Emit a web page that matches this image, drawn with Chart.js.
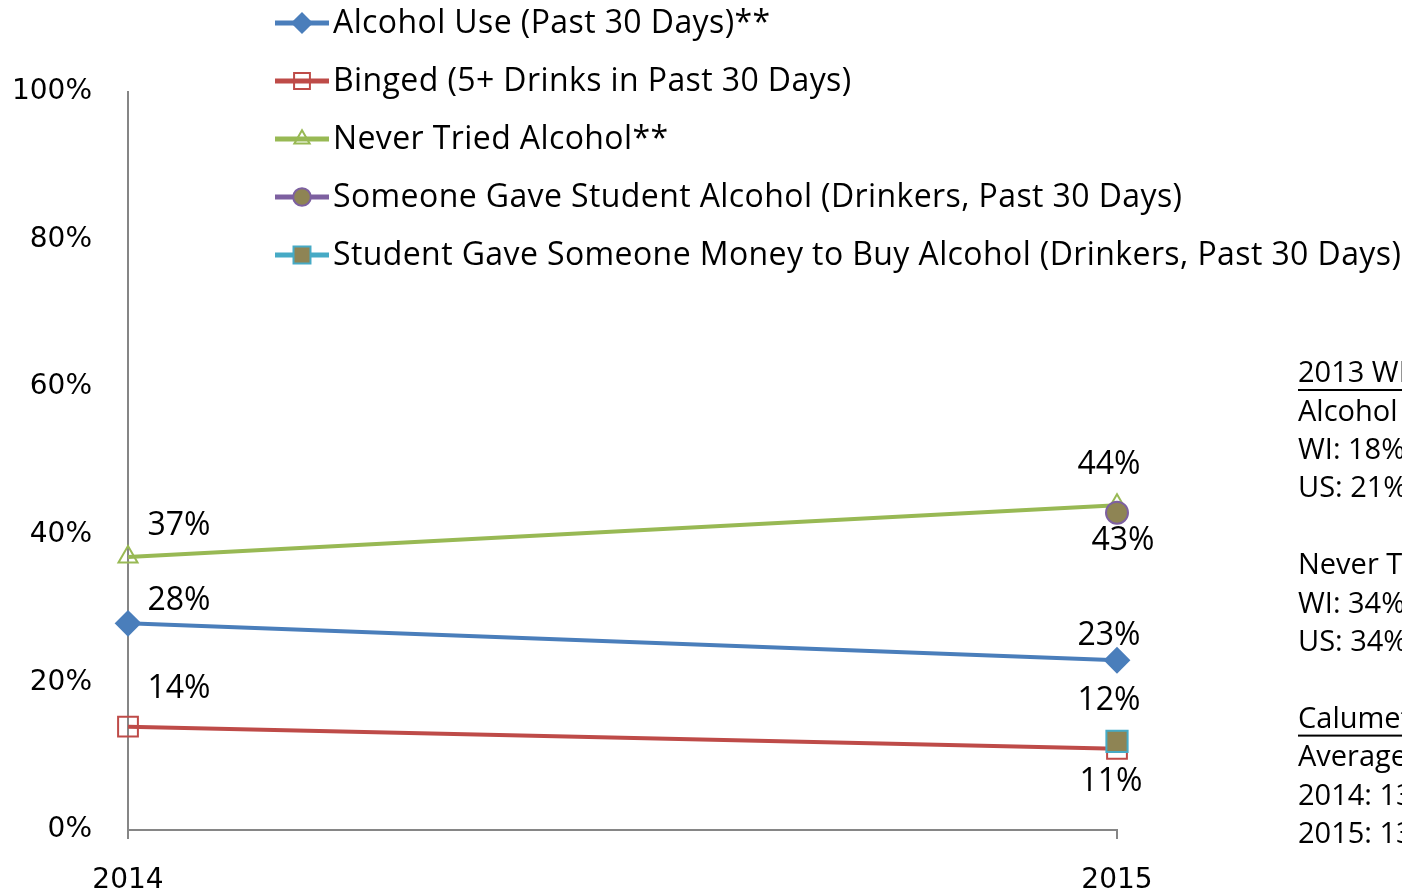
<!DOCTYPE html>
<html>
<head>
<meta charset="utf-8">
<script src="https://cdn.jsdelivr.net/npm/chart.js@4/dist/chart.umd.min.js"></script>
<style>
  html, body { margin: 0; padding: 0; background: #fff; }
  #wrap { width: 1402px; height: 894px; overflow: hidden; }
</style>
</head>
<body>
<div id="wrap"><canvas id="chart" width="1402" height="894"></canvas></div>
<script>
const years = ['2014', '2015'];
const alcoholUse = [28, 23];
const binged = [14, 11];
const neverTried = [37, 44];
const someoneGave = [null, 43];
const studentGaveMoney = [null, 12];
const yTicks = [0, 20, 40, 60, 80, 100];

const seriesNames = [
  'Alcohol Use (Past 30 Days)**',
  'Binged (5+ Drinks in Past 30 Days)',
  'Never Tried Alcohol**',
  'Someone Gave Student Alcohol (Drinkers, Past 30 Days)',
  'Student Gave Someone Money to Buy Alcohol (Drinkers, Past 30 Days)',
];

const sideNotes = [
  { text: '2013 WI YRBS', underline: true },
  { text: 'Alcohol Use' },
  { text: 'WI: 18%' },
  { text: 'US: 21%' },
  { text: '' },
  { text: 'Never Tried' },
  { text: 'WI: 34%' },
  { text: 'US: 34%' },
  { text: '' },
  { text: 'Calumet County', underline: true },
  { text: 'Average Age of First Drink' },
  { text: '2014: 13.5' },
  { text: '2015: 13.5' },
];

const BLUE = '#4a7ebb';
const RED = '#be4b48';
const GREEN = '#98b954';
const PURPLE = '#7d60a0';
const AQUA = '#46aac5';
const OLIVE = '#8e8454';
const AXIS = '#868686';
const TEXT_FONT = '"Open Sans", Lato, sans-serif';
const TICK_FONT = '"DejaVu Sans", sans-serif';

// label offsets from each point [dx, dy] (text centre), per dataset / index
const labelOffsets = [
  [[51, -22], [-8, -24]],
  [[51, -38], [-6, 33]],
  [[51, -31], [-8, -40]],
  [null, [6, 28]],
  [null, [-8, -41]],
];

function mkSet(label, data, color, style, radius, fill, order) {
  return {
    label, data,
    borderColor: color,
    borderWidth: 4,
    pointStyle: style,
    pointRadius: radius,
    pointHoverRadius: radius,
    pointBorderColor: color,
    pointBackgroundColor: fill,
    pointBorderWidth: 2,
    tension: 0,
    spanGaps: false,
    order,
  };
}

const datasets = [
  mkSet(seriesNames[0], alcoholUse, BLUE, 'rectRot', 12, BLUE, 5),
  mkSet(seriesNames[1], binged, RED, 'rect', 14, 'rgba(0,0,0,0)', 4),
  mkSet(seriesNames[2], neverTried, GREEN, 'triangle', 11, 'rgba(0,0,0,0)', 3),
  mkSet(seriesNames[3], someoneGave, PURPLE, 'circle', 11, OLIVE, 2),
  mkSet(seriesNames[4], studentGaveMoney, AQUA, 'rect', 15, OLIVE, 1),
];

const extrasPlugin = {
  id: 'extras',
  afterDatasetsDraw(chart) {
    const ctx = chart.ctx;
    ctx.save();
    // data labels
    ctx.font = '32px ' + TEXT_FONT;
    ctx.fillStyle = '#000';
    ctx.textAlign = 'center';
    ctx.textBaseline = 'middle';
    chart.data.datasets.forEach((ds, di) => {
      const meta = chart.getDatasetMeta(di);
      ds.data.forEach((v, i) => {
        if (v == null) return;
        const off = labelOffsets[di][i];
        const pt = meta.data[i];
        ctx.fillText(v + '%', pt.x + off[0], pt.y + off[1]);
      });
    });

    // legend
    const legX = 275, legTop = 23, legStep = 58;
    ctx.textAlign = 'left';
    chart.data.datasets.forEach((ds, di) => {
      const y = legTop + di * legStep;
      ctx.strokeStyle = ds.borderColor;
      ctx.lineWidth = 5;
      ctx.beginPath();
      ctx.moveTo(legX, y);
      ctx.lineTo(legX + 54, y);
      ctx.stroke();
      ctx.fillStyle = ds.pointBackgroundColor;
      ctx.strokeStyle = ds.pointBorderColor;
      ctx.lineWidth = 2;
      Chart.helpers.drawPoint(ctx, {
        pointStyle: ds.pointStyle,
        radius: ds.pointRadius * 0.8,
        rotation: 0,
        borderWidth: 2,
      }, legX + 27, y);
      ctx.fillStyle = '#000';
      ctx.font = '32px ' + TEXT_FONT;
      ctx.letterSpacing = '0.4px';
      ctx.fillText(ds.label, legX + 58, y + 1);
      ctx.letterSpacing = '0px';
    });

    // side notes
    ctx.font = '29px ' + TEXT_FONT;
    ctx.textBaseline = 'middle';
    sideNotes.forEach((n, i) => {
      const y = 374 + i * 38.4;
      ctx.fillStyle = '#000';
      ctx.fillText(n.text, 1298, y);
      if (n.underline) {
        const w = ctx.measureText(n.text).width;
        ctx.fillRect(1298, y + 15, w, 2);
      }
    });
    ctx.restore();
  },
};

new Chart(document.getElementById('chart'), {
  type: 'line',
  data: { labels: years, datasets },
  plugins: [extrasPlugin],
  options: {
    responsive: false,
    animation: false,
    events: [],
    layout: { padding: { left: 0, top: 92, right: 285, bottom: 0 } },
    plugins: { legend: { display: false }, tooltip: { enabled: false } },
    scales: {
      x: {
        offset: false,
        grid: { display: true, drawOnChartArea: false, color: AXIS, lineWidth: 2, tickLength: 9 },
        border: { display: true, color: AXIS, width: 2 },
        ticks: { color: '#000', font: { family: TICK_FONT, size: 28 }, padding: 25, maxRotation: 0 },
        afterFit: s => { s.height = 64; },
      },
      y: {
        min: 0,
        max: 100,
        afterBuildTicks: s => { s.ticks = yTicks.map(v => ({ value: v })); },
        grid: { display: false },
        border: { display: true, color: AXIS, width: 2 },
        ticks: { color: '#000', font: { family: TICK_FONT, size: 28 }, padding: 28, callback: v => v + '%' },
        afterFit: s => { s.width = 128; },
      },
    },
  },
});
</script>
</body>
</html>
